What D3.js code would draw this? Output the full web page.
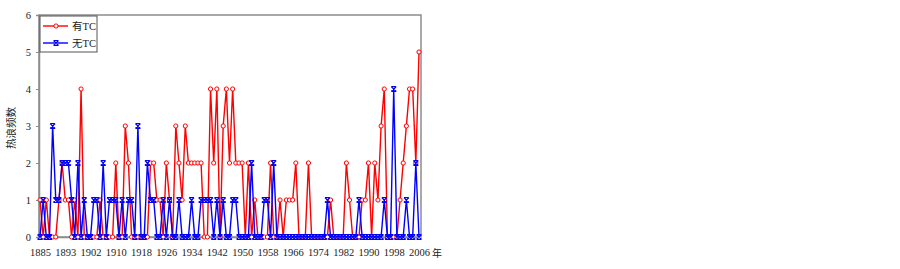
<!DOCTYPE html>
<html>
<head>
<meta charset="utf-8">
<script src="https://cdn.jsdelivr.net/npm/d3@7"></script>
<style>
  body { margin: 0; background: #fff; }
  svg text { font-family: "Liberation Serif", "Noto Sans CJK SC", serif; }
</style>
</head>
<body>
<svg id="chart" width="900" height="269"></svg>
<script>
// categories: 121 years, one year before 1902 is missing in the source table
const years = d3.range(1885, 2007).filter(y => y !== 1894)
const tickYears = [1885, 1893, 1902, 1910, 1918, 1926, 1934, 1942, 1950, 1958, 1966, 1974, 1982, 1990, 1998, 2006]
const yTicks = [0, 1, 2, 3, 4, 5, 6]

// 有TC
const withTC = [
  1, 0, 1, 0, 0, 0, 1, 2, 1, 1,
  0, 1, 0, 4, 0, 0, 0, 0, 0, 1,
  0, 0, 0, 0, 2, 0, 0, 3, 2, 0,
  0, 0, 0, 0, 0, 2, 2, 1, 1, 0,
  2, 1, 0, 3, 2, 1, 3, 2, 2, 2,
  2, 2, 0, 0, 4, 2, 4, 0, 3, 4,
  2, 4, 2, 2, 2, 0, 2, 0, 1, 0,
  0, 0, 0, 2, 0, 0, 1, 0, 1, 1,
  1, 2, 0, 0, 0, 2, 0, 0, 0, 0,
  0, 0, 1, 0, 0, 0, 0, 2, 1, 0,
  0, 0, 1, 1, 2, 0, 2, 1, 3, 4,
  0, 0, 0, 0, 1, 2, 3, 4, 4, 2,
  5
]

// 无TC
const withoutTC = [
  0, 1, 0, 0, 3, 1, 1, 2, 2, 2,
  1, 0, 2, 0, 1, 0, 0, 1, 1, 0,
  2, 0, 1, 1, 1, 0, 1, 0, 1, 1,
  0, 3, 0, 0, 2, 1, 1, 0, 0, 1,
  0, 1, 0, 0, 1, 0, 0, 0, 1, 0,
  0, 1, 1, 1, 1, 0, 1, 0, 1, 0,
  0, 1, 1, 0, 0, 0, 0, 2, 0, 0,
  0, 1, 1, 0, 2, 0, 0, 0, 0, 0,
  0, 0, 0, 0, 0, 0, 0, 0, 0, 0,
  0, 1, 0, 0, 0, 0, 0, 0, 0, 0,
  0, 1, 0, 0, 0, 0, 0, 0, 0, 1,
  0, 0, 4, 0, 0, 0, 1, 0, 0, 2,
  0
]

const svg = d3.select('#chart')
const plotLeft = 39, plotRight = 421, plotTop = 15, plotBottom = 237

const x = d3.scalePoint().domain(years).range([40, 419])
const y = d3.scaleLinear().domain([0, 6]).range([plotBottom, plotTop])

// plot frame
svg.append('rect')
  .attr('x', plotLeft).attr('y', plotTop)
  .attr('width', plotRight - plotLeft).attr('height', plotBottom - plotTop)
  .attr('fill', 'none').attr('stroke', '#8c8c8c').attr('stroke-width', 1.5)

// y axis
const yAxis = d3.axisLeft(y).tickValues(yTicks).tickSize(3).tickFormat(d3.format('d'))
const gy = svg.append('g').attr('transform', 'translate(' + plotLeft + ',0)').call(yAxis)
gy.attr('font-family', null)
gy.select('.domain').attr('stroke', '#8c8c8c').attr('stroke-width', 1.5)
gy.selectAll('.tick line').attr('stroke', '#8c8c8c')
gy.selectAll('.tick text').attr('x', -8).attr('font-size', 10.5).attr('fill', '#222')
  .style('font-family', '"Liberation Serif", serif')

// x axis
const xAxis = d3.axisBottom(x).tickValues(tickYears).tickSize(0)
const gx = svg.append('g').attr('transform', 'translate(0,' + plotBottom + ')').call(xAxis)
gx.attr('font-family', null)
gx.select('.domain').attr('stroke', '#8c8c8c').attr('stroke-width', 1.5)
gx.selectAll('.tick text').attr('y', 12).attr('dy', '0.71em').attr('font-size', 10.5).attr('fill', '#222')
  .style('font-family', '"Liberation Serif", serif')

svg.append('text')
  .attr('x', 432).attr('y', plotBottom + 20)
  .attr('font-size', 10).attr('fill', '#222')
  .style('font-family', '"Noto Sans CJK SC", sans-serif')
  .text('年')

svg.append('text')
  .attr('transform', 'translate(15,' + ((plotTop + plotBottom) / 2 + 2) + ') rotate(-90)')
  .attr('text-anchor', 'middle')
  .attr('font-size', 10.5).attr('fill', '#222')
  .style('font-family', '"Noto Sans CJK SC", sans-serif')
  .text('热浪频数')

const line = d3.line().x((d, i) => x(years[i])).y(d => y(d))

const starPath = 'M-2.5,-2.5L2.5,2.5M-2.5,2.5L2.5,-2.5M-2.5,-2.5H2.5M-2.5,2.5H2.5'

function drawSeries(values, color, marker) {
  svg.append('path')
    .datum(values)
    .attr('d', line)
    .attr('fill', 'none')
    .attr('stroke', color)
    .attr('stroke-width', 1.4)
  const g = svg.append('g')
  if (marker === 'circle') {
    g.selectAll('circle').data(values).join('circle')
      .attr('cx', (d, i) => x(years[i]))
      .attr('cy', d => y(d))
      .attr('r', 2.1)
      .attr('fill', '#fff')
      .attr('stroke', color)
      .attr('stroke-width', 1)
  } else {
    g.selectAll('path').data(values).join('path')
      .attr('transform', (d, i) => 'translate(' + x(years[i]) + ',' + y(d) + ')')
      .attr('d', starPath)
      .attr('fill', 'none')
      .attr('stroke', color)
      .attr('stroke-width', 1.2)
  }
}

drawSeries(withTC, '#ff0000', 'circle')
drawSeries(withoutTC, '#0000ff', 'star')

// legend
const legend = svg.append('g')
legend.append('rect')
  .attr('x', 40).attr('y', 16).attr('width', 57).attr('height', 36)
  .attr('fill', '#fff').attr('stroke', '#555').attr('stroke-width', 1)

const legendItems = [
  { name: '有TC', color: '#ff0000', marker: 'circle', yy: 26 },
  { name: '无TC', color: '#0000ff', marker: 'star', yy: 43 }
]
legendItems.forEach(it => {
  legend.append('line')
    .attr('x1', 43).attr('x2', 68).attr('y1', it.yy).attr('y2', it.yy)
    .attr('stroke', it.color).attr('stroke-width', 1.4)
  if (it.marker === 'circle') {
    legend.append('circle').attr('cx', 56).attr('cy', it.yy).attr('r', 2.1)
      .attr('fill', '#fff').attr('stroke', it.color).attr('stroke-width', 1)
  } else {
    legend.append('path').attr('transform', 'translate(56,' + it.yy + ')')
      .attr('d', starPath).attr('fill', 'none').attr('stroke', it.color).attr('stroke-width', 1.2)
  }
  legend.append('text')
    .attr('x', 72).attr('y', it.yy).attr('dy', '0.35em')
    .attr('font-size', 10.5).attr('fill', '#222')
    .style('font-family', '"Liberation Serif", "Noto Sans CJK SC", serif')
    .text(it.name)
})
</script>
</body>
</html>
